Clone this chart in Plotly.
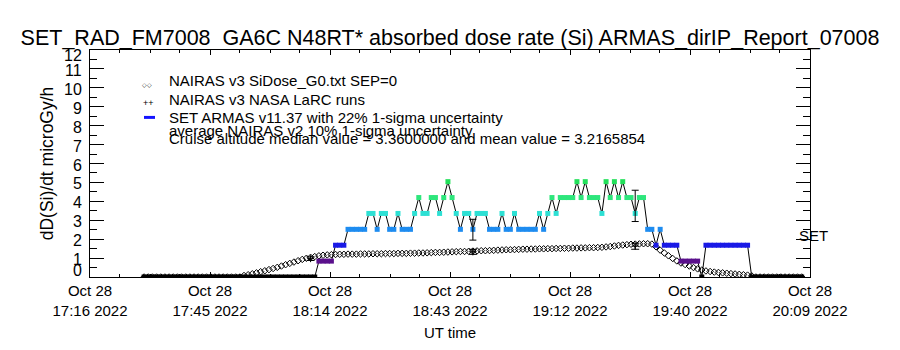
import plotly.graph_objects as go
import pandas as pd

# ---------------- data ----------------
armas_start = "2022-10-28 17:29:00"   # first ARMAS record, 1-min cadence
armas_dose = [
    0, 0, 0, 0, 0, 0, 0, 0, 0, 0, 0, 0, 0, 0, 0, 0, 0, 0, 0, 0, 0,
    0, 0, 0, 0, 0, 0, 0, 0, 0, 0, 0, 0, 0, 0, 0, 0, 0, 0, 0, 0, 0,
    0.84, 0.84, 0.84, 0.84,
    1.68, 1.68, 1.68,
    2.52, 2.52, 2.52, 2.52, 2.52,
    3.36, 3.36, 2.52, 3.36, 3.36, 2.52, 2.52, 3.36, 2.52, 2.52, 2.52,
    3.36, 4.20, 3.36, 3.36, 4.20, 4.20, 3.36, 4.20, 5.04, 4.20, 3.36,
    2.52, 3.36, 3.36, 2.52, 3.36, 3.36, 3.36, 2.52, 2.52, 2.52, 3.36,
    2.52, 2.52, 3.36, 2.52, 2.52, 2.52, 2.52, 2.52, 3.36, 2.52, 3.36,
    4.20, 3.36, 4.20, 4.20, 4.20, 4.20, 5.04, 4.20, 5.04, 4.20, 4.20,
    4.20, 3.36, 5.04, 4.20, 5.04, 4.20, 5.04, 4.20, 4.20, 3.36, 4.20,
    4.20, 2.52, 2.52, 1.68, 2.52, 1.68, 1.68, 1.68, 1.68,
    0.84, 0.84, 0.84, 0.84, 0.84,
    0,
    1.68, 1.68, 1.68, 1.68, 1.68, 1.68, 1.68, 1.68, 1.68, 1.68, 1.68,
    0, 0, 0, 0, 0, 0, 0, 0, 0, 0, 0, 0, 0,
]

nairas_dose = [
    0, 0, 0, 0, 0, 0, 0, 0, 0, 0, 0, 0, 0, 0, 0, 0, 0, 0, 0, 0, 0, 0, 0, 0,
    0.08, 0.12, 0.17, 0.22, 0.28, 0.33, 0.39, 0.45, 0.51, 0.58, 0.65, 0.72,
    0.79, 0.86, 0.93, 0.99, 1.04, 1.08, 1.12, 1.15, 1.17, 1.18, 1.19, 1.20,
    1.20, 1.21, 1.21, 1.21, 1.22, 1.22, 1.22, 1.23, 1.23, 1.23, 1.24, 1.24,
    1.24, 1.25, 1.25, 1.25, 1.26, 1.26, 1.27, 1.27,
    1.28, 1.29, 1.30, 1.30, 1.31, 1.32, 1.33, 1.34, 1.35, 1.35, 1.36, 1.37,
    1.38, 1.39, 1.39, 1.40, 1.41, 1.42, 1.43, 1.44, 1.44, 1.45, 1.46, 1.47,
    1.47, 1.48, 1.48, 1.49, 1.49, 1.50, 1.50, 1.51, 1.51, 1.52, 1.52, 1.53,
    1.53, 1.54, 1.54, 1.55, 1.55, 1.56,
    1.57, 1.59, 1.61, 1.64, 1.67, 1.69, 1.71, 1.73, 1.74, 1.75, 1.76, 1.76,
    1.74,
    1.60, 1.42, 1.27, 1.12, 0.98, 0.85, 0.74, 0.66, 0.58, 0.50, 0.43, 0.37,
    0.32, 0.29, 0.26, 0.24, 0.22, 0.20, 0.18, 0.16, 0.14, 0.12, 0.10, 0.06,
    0, 0, 0, 0, 0, 0, 0, 0, 0, 0, 0, 0,
]

larc_times = ["2022-10-28 18:09:00", "2022-10-28 18:48:00", "2022-10-28 19:27:00"]
larc_dose = [0.97, 1.33, 1.63]
armas_at_larc = [0.0, 2.50, 3.76]
nairas_unc = 0.10
armas_unc = 0.22

x_start = "2022-10-28 17:16:00"
x_end = "2022-10-28 20:09:00"
tick_text = ["Oct 28<br>17:16 2022", "Oct 28<br>17:45 2022", "Oct 28<br>18:14 2022",
             "Oct 28<br>18:43 2022", "Oct 28<br>19:12 2022", "Oct 28<br>19:40 2022",
             "Oct 28<br>20:09 2022"]
y_ticks = list(range(0, 13))

level_colors = {0.0: "#000000", 0.84: "#5a108c", 1.68: "#1a1ae6", 2.52: "#1e8cf0",
                3.36: "#2de0d4", 4.20: "#2ee67c", 5.04: "#22e05a"}

# ---------------- figure ----------------
armas_time = pd.date_range(armas_start, periods=len(armas_dose), freq="1min")
nairas_time = pd.date_range(armas_start, periods=len(nairas_dose), freq="1min")
armas_colors = [level_colors[round(v, 2)] for v in armas_dose]

fig = go.Figure()

fig.add_trace(go.Scatter(
    x=nairas_time, y=nairas_dose, mode="markers",
    marker=dict(symbol="diamond-open", size=5, color="black", line=dict(width=1, color="black")),
))

fig.add_trace(go.Scatter(
    x=armas_time, y=armas_dose, mode="lines+markers",
    line=dict(color="black", width=1),
    marker=dict(symbol="square", size=5, color=armas_colors, line=dict(width=0)),
))

fig.add_trace(go.Scatter(
    x=pd.to_datetime(larc_times), y=larc_dose, mode="markers",
    marker=dict(symbol="cross-thin-open", size=5, color="black", line=dict(width=1, color="black")),
    error_y=dict(type="percent", value=nairas_unc * 100, color="black", thickness=1, width=4),
))

fig.add_trace(go.Scatter(
    x=pd.to_datetime(larc_times), y=armas_at_larc, mode="markers",
    marker=dict(size=1, color="rgba(0,0,0,0)"),
    error_y=dict(type="percent", value=armas_unc * 100, color="black", thickness=1, width=3.5),
))

# axes geometry (pixels) used only to place legend text
L, R, T, B = 90, 810, 50, 279


def px(xp):
    return (xp - L) / (R - L)


def py(yp):
    return (B - yp) / (B - T)


t0 = pd.Timestamp(x_start)
t1 = pd.Timestamp(x_end)
major_vals = [t0 + k * (t1 - t0) / 6 for k in range(7)]
minor_vals = [t0 + k * (t1 - t0) / 24 for k in range(25)]

fig.update_layout(
    width=900, height=350,
    margin=dict(l=L, r=900 - R, t=T, b=350 - B),
    paper_bgcolor="white", plot_bgcolor="white",
    showlegend=False,
    font=dict(family="Liberation Sans", color="black", size=15),
    title=dict(text="SET_RAD_FM7008  GA6C N48RT* absorbed dose rate (Si) ARMAS_dirIP_Report_07008",
               x=0.5, xanchor="center", y=1 - 37 / 350, yanchor="middle",
               font=dict(size=21.5, family="Liberation Sans", color="black")),
    xaxis=dict(
        type="date", range=[t0, t1],
        tickmode="array", tickvals=major_vals, ticktext=tick_text,
        ticks="inside", ticklen=5, tickcolor="black", tickwidth=1,
        minor=dict(tickmode="array", tickvals=minor_vals, ticks="inside", ticklen=3,
                   tickcolor="black", showgrid=False),
        showline=True, linecolor="black", linewidth=1, mirror="allticks",
        showgrid=False, zeroline=False,
        tickfont=dict(size=15),
        title=dict(text="UT time", font=dict(size=15), standoff=9),
    ),
    yaxis=dict(
        range=[0, 12], tickmode="array", tickvals=y_ticks,
        ticks="inside", ticklen=14, tickcolor="black", tickwidth=1,
        minor=dict(dtick=0.5, ticks="inside", ticklen=7, tickcolor="black", showgrid=False),
        showline=True, linecolor="black", linewidth=1, mirror="allticks",
        showgrid=False, zeroline=False,
        showticklabels=False,
        title=dict(text="dD(Si)/dt microGy/h", font=dict(size=17.5), standoff=30),
    ),
)

ann = []
# y tick labels placed the way the original plotting package does (end labels pulled inward)
for v in y_ticks:
    if v == y_ticks[0]:
        shift = 6.5
    elif v == y_ticks[-1]:
        shift = -5
    else:
        shift = -1.5
    ann.append(dict(text=str(v), x=0, xref="paper", y=v, yref="y",
                    xanchor="right", yanchor="middle", xshift=-6, yshift=shift,
                    showarrow=False, font=dict(size=16, color="black")))

legend_lines = [
    ("NAIRAS v3 SiDose_G0.txt SEP=0", 81),
    ("NAIRAS v3 NASA LaRC runs", 100),
    ("SET ARMAS v11.37 with 22% 1-sigma uncertainty", 118),
    ("average NAIRAS v2 10% 1-sigma uncertainty", 131),
    ("Cruise altitude median value = 3.3600000 and mean value = 3.2165854", 139),
]
for txt, yy in legend_lines:
    ann.append(dict(text=txt, x=px(167), y=py(yy), xref="paper", yref="paper",
                    xanchor="left", yanchor="middle", showarrow=False,
                    font=dict(size=15, family="Liberation Sans", color="black")))
ann.append(dict(text="◇◇", x=px(146.5), y=py(85), xref="paper", yref="paper",
                xanchor="center", yanchor="middle", showarrow=False,
                font=dict(size=6, color="black")))
ann.append(dict(text="++", x=px(148), y=py(103), xref="paper", yref="paper",
                xanchor="center", yanchor="middle", showarrow=False,
                font=dict(size=9, color="black")))
ann.append(dict(text="SET", x=px(797), y=py(237.5), xref="paper", yref="paper",
                xanchor="left", yanchor="middle", showarrow=False,
                font=dict(size=15, color="black")))
fig.update_layout(annotations=ann)
fig.add_shape(type="rect", xref="paper", yref="paper",
              x0=px(144), x1=px(155), y0=py(119.5), y1=py(116.5),
              fillcolor="#1414ff", line=dict(width=0))

fig.write_html("out.html")
